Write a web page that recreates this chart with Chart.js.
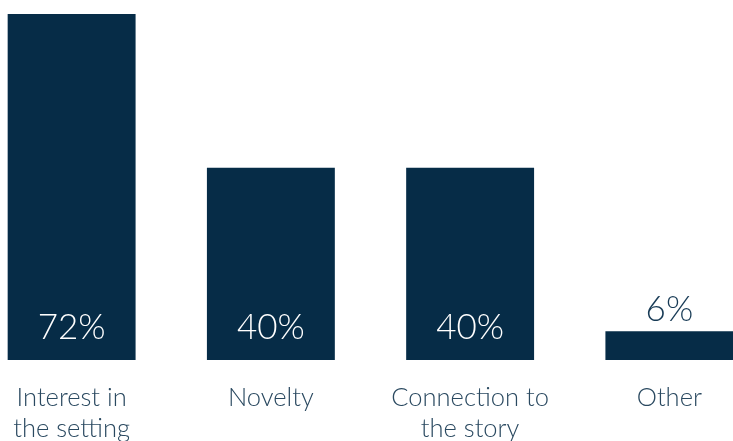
<!DOCTYPE html>
<html>
<head>
<meta charset="utf-8">
<script src="https://cdn.jsdelivr.net/npm/chart.js@4"></script>
<style>
  html, body { margin: 0; padding: 0; background: #ffffff; overflow: hidden; }
  body { width: 733px; height: 441px; position: relative; }
  #wrap { position: absolute; left: -28px; top: 0; width: 797px; height: 441px; }
</style>
</head>
<body>
<div id="wrap"><canvas id="chart"></canvas></div>
<script>
const categories = [["Interest in", "the setting"], ["Novelty"], ["Connection to", "the story"], ["Other"]];
const shares = [72, 40, 40, 6];
const valueLabels = ["72%", "40%", "40%", "6%"];

const BAR = "#062c47";
const INK = "#2a4960";
const FONT = "Lato, 'Open Sans', sans-serif";

// Percent labels: inside the bar near its base, or above it when the bar is too short
const valueLabelPlugin = {
  id: "valueLabels",
  afterDatasetsDraw(chart) {
    const ctx = chart.ctx;
    const meta = chart.getDatasetMeta(0);
    ctx.save();
    ctx.font = "300 35px " + FONT;
    ctx.textAlign = "center";
    ctx.textBaseline = "alphabetic";
    meta.data.forEach((bar, i) => {
      const h = bar.base - bar.y;
      if (h > 60) {
        ctx.fillStyle = "#ffffff";
        ctx.fillText(valueLabels[i], bar.x, bar.base - 21);
      } else {
        ctx.fillStyle = "#173a55";
        ctx.fillText(valueLabels[i], bar.x, bar.y - 10);
      }
    });
    ctx.restore();
  }
};

new Chart(document.getElementById("chart"), {
  type: "bar",
  data: {
    labels: categories,
    datasets: [{
      data: shares,
      backgroundColor: BAR,
      borderWidth: 0,
      categoryPercentage: 1,
      barPercentage: 0.642
    }]
  },
  options: {
    responsive: true,
    maintainAspectRatio: false,
    animation: false,
    events: [],
    layout: { padding: { top: 14, left: 0, right: 0, bottom: 0 } },
    plugins: { legend: { display: false }, tooltip: { enabled: false } },
    scales: {
      x: {
        grid: { display: false, drawTicks: false },
        border: { display: false },
        ticks: {
          color: INK,
          font: { family: FONT, size: 25.5, weight: 300, lineHeight: 1.216 },
          padding: 22,
          maxRotation: 0,
          autoSkip: false
        },
        afterFit(scale) { scale.height = 81; }
      },
      y: {
        display: false,
        min: 0,
        max: 72
      }
    }
  },
  plugins: [valueLabelPlugin]
});
</script>
</body>
</html>
